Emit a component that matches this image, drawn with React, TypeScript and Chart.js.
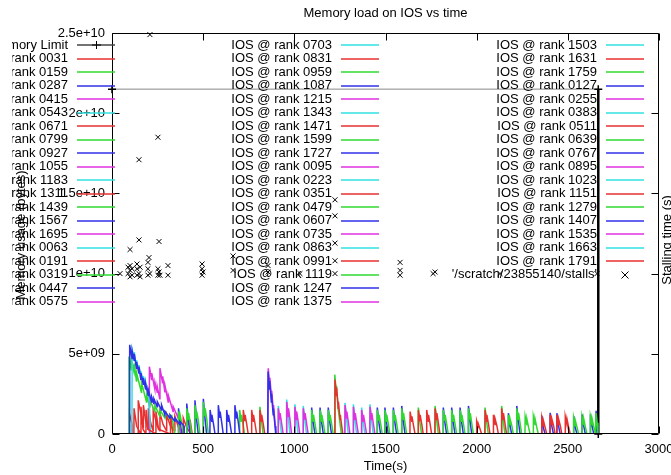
import React, { useEffect, useRef } from "react";
import { Chart, registerables } from "chart.js";
Chart.register(...registerables);

// ---------- texts & ticks ----------
const chartTitle = "Memory load on IOS vs time";
const xTitle = "Time(s)";
const yTitle = "Memory usage (bytes)";
const y2Title = "Stalling time (s)";
const xTicks = [0, 500, 1000, 1500, 2000, 2500, 3000];
const yTicks = [0, 5e9, 1e10, 1.5e10, 2e10, 2.5e10];
const yTickLabels = ["0", "5e+09", "1e+10", "1.5e+10", "2e+10", "2.5e+10"];

// ---------- data (time s, memory in 1e9 bytes) ----------
const memoryLimitLabel = "Memory Limit";
const memoryLimit = [[0, 21.5], [2667, 21.5], [2667, 0]];

const stallsLabel = "'/scratch/23855140/stalls'";
// (time s, stalling time on y2)
const stalls = [
  [44, 100], [88, 100], [88, 104], [99, 98], [99, 102], [99, 105], [99, 115],
  [110, 99], [110, 103], [137, 99], [137, 103], [137, 106], [148, 100], [148, 121], [148, 171],
  [154, 98], [154, 104], [197, 99], [197, 103], [197, 107], [203, 110], [208, 100], [208, 249],
  [252, 99], [252, 103], [252, 185], [258, 101], [258, 120], [263, 99], [307, 99], [307, 105],
  [494, 99], [494, 103], [494, 106], [499, 101], [664, 111], [664, 102], [856, 101], [856, 105],
  [1031, 100], [1223, 100], [1223, 108], [1223, 119], [1223, 136], [1223, 146],
  [1580, 99], [1580, 102], [1580, 107], [1761, 100], [1772, 101], [2128, 100], [2660, 100],
];

const rankIds = [
  "0031", "0159", "0287", "0415", "0543", "0671", "0799", "0927", "1055", "1183", "1311", "1439", "1567", "1695", "0063", "0191", "0319", "0447", "0575",
  "0703", "0831", "0959", "1087", "1215", "1343", "1471", "1599", "1727", "0095", "0223", "0351", "0479", "0607", "0735", "0863", "0991", "1119", "1247", "1375",
  "1503", "1631", "1759", "0127", "0255", "0383", "0511", "0639", "0767", "0895", "1023", "1151", "1279", "1407", "1535", "1663", "1791",
];

const ios0031 = [[94,0],[95,1.3],[110,0.6],[111,0],[143,0],[144,2.1],[160,1.2],[171,0.4],[172,1.8],[185,0.8],[198,0.3],[199,1.6],[212,0.7],[225,0.2],[226,1.5],[245,0.6],[262,0.2],[263,1.3],[280,0.6],[299,0.2],[300,1.2],[320,0.5],[344,0.2],[345,1.1],[365,0.4],[390,0.1],[391,1.0],[410,0.4],[427,0.1],[428,0.9],[440,0]];
const ios0159 = [[92,0],[93,4.83],[105,4.0],[106,4.6],[120,3.9],[121,4.4],[134,3.3],[135,3.8],[161,2.6],[162,3.2],[189,2.0],[190,2.4],[207,1.7],[208,2.1],[234,1.4],[235,1.8],[262,1.1],[263,1.5],[290,1.0],[291,1.4],[326,0.8],[327,1.2],[345,0]];
const ios0287 = [[364,0],[365,1.6],[374,0.7],[383,0],[409,0],[410,1.9],[419,0.8],[428,0],[454,0],[455,2.1],[464,0.9],[473,0],[500,0],[501,2.2],[510,1.0],[519,0]];
const ios0415 = [[204,0],[205,4.2],[217,3.4],[218,3.8],[235,2.8],[236,3.2],[248,2.6],[249,2.9],[262,2.2],[263,4.1],[277,3.2],[278,3.6],[290,2.6],[291,3.0],[308,2.0],[309,2.4],[335,1.4],[336,1.7],[363,1.0],[364,1.3],[375,0]];
const ios0543 = [[109,0],[111,5.25],[121,4.7],[122,5.1],[134,4.2],[135,4.6],[147,3.9],[148,4.3],[158,3.5],[159,3.9],[171,3.2],[172,3.6],[184,2.9],[185,3.2],[198,2.5],[199,2.85],[212,0]];
const ios0671 = [[120,0],[121,1.6],[135,0.5],[158,0],[159,1.7],[170,0.3],[186,0],[187,1.5],[197,0.3],[240,0],[241,1.4],[255,0.3],[320,0],[321,1.1],[335,0]];
const ios0799 = [[364,0],[365,1.4],[374,0.8],[375,1.1],[384,0.6],[392,0],[409,0],[410,1.6],[419,0.9],[420,1.3],[429,0.7],[437,0],[454,0],[455,1.8],[464,1.0],[465,1.4],[474,0.8],[482,0],[500,0],[501,2.0],[510,1.1],[511,1.6],[520,0.9],[528,0]];
const ios0927 = [[96,0],[97,5.56],[110,4.7],[111,5.15],[121,4.6],[122,5.0],[134,4.1],[135,4.5],[147,3.8],[148,4.2],[158,3.4],[159,3.8],[171,3.1],[172,3.5],[184,2.8],[185,3.1],[198,2.4],[199,2.75],[217,2.0],[218,2.3],[229,1.9],[230,2.2],[248,1.7],[249,2.0],[271,1.5],[272,1.8],[290,1.2],[291,1.4],[317,1.0],[318,1.2],[344,0.8],[345,1.0],[371,0.6],[372,0.8],[395,0.5],[396,0]];
const ios1055: number[][] = [];
const ios1183: number[][] = [];
const ios1311: number[][] = [];
const ios1439 = [[699,0],[700,1.5],[709,0.8],[710,1.2],[719,0.6],[727,0],[810,0],[811,1.7],[820,0.8],[829,0]];
const ios1567 = [[537,0],[538,1.5],[547,0.8],[548,1.2],[557,0.6],[565,0],[582,0],[583,1.8],[592,1.0],[593,1.4],[602,0.7],[610,0],[628,0],[629,1.5],[638,0.8],[639,1.2],[648,0.6],[656,0],[673,0],[674,1.8],[683,1.0],[684,1.4],[693,0.7],[701,0]];
const ios1695 = [[855,0],[857,4.1],[865,3.0],[866,3.5],[875,2.2],[876,2.7],[885,1.4],[886,1.8],[895,0.6],[900,0]];
const ios0063: number[][] = [];
const ios0191 = [[719,0],[720,1.5],[729,0.8],[730,1.2],[739,0.6],[747,0],[765,0],[766,1.5],[775,0.8],[776,1.2],[785,0.6],[793,0],[810,0],[811,1.5],[820,0.8],[821,1.2],[830,0.6],[838,0]];
const ios0319 = [[1679,0],[1680,1.65],[1689,0.7],[1698,0],[1771,0],[1772,1.75],[1781,0.8],[1790,0]];
const ios0447 = [[854,0],[856,3.9],[864,2.8],[865,3.3],[874,2.0],[875,2.5],[884,1.2],[885,1.6],[894,0.5],[898,0]];
const ios0575: number[][] = [];
const ios0703 = [[911,0],[912,1.75],[921,0.8],[930,0],[957,0],[958,2.15],[967,1.0],[976,0],[1002,0],[1003,1.85],[1012,0.8],[1021,0],[1048,0],[1049,1.75],[1058,0.8],[1067,0]];
const ios0831: number[][] = [];
const ios0959 = [[1221,0],[1222,3.7],[1230,2.5],[1231,3.0],[1240,1.6],[1249,0.8],[1258,0]];
const ios1087 = [[1094,0],[1095,1.65],[1104,0.7],[1113,0],[1140,0],[1141,1.65],[1150,0.7],[1159,0],[1185,0],[1186,1.65],[1195,0.7],[1204,0]];
const ios1215 = [[911,0],[912,1.6],[921,0.9],[922,1.3],[931,0.6],[939,0],[957,0],[958,2.0],[967,1.1],[968,1.6],[977,0.8],[985,0],[1002,0],[1003,1.7],[1012,0.9],[1013,1.4],[1022,0.7],[1030,0],[1048,0],[1049,1.6],[1058,0.9],[1059,1.3],[1068,0.6],[1076,0]];
const ios1343 = [[1277,0],[1278,1.95],[1287,0.9],[1296,0],[1323,0],[1324,1.85],[1333,0.8],[1342,0],[1368,0],[1369,1.65],[1378,0.7],[1387,0],[1414,0],[1415,1.85],[1424,0.8],[1433,0]];
const ios1471 = [[1221,0],[1223,3.4],[1231,2.4],[1232,2.9],[1241,1.6],[1242,2.0],[1251,0.9],[1252,1.2],[1261,0.4],[1266,0]];
const ios1599 = [[1094,0],[1095,1.5],[1104,0.8],[1105,1.2],[1114,0.6],[1122,0],[1140,0],[1141,1.5],[1150,0.8],[1151,1.2],[1160,0.6],[1168,0],[1185,0],[1186,1.5],[1195,0.8],[1196,1.2],[1205,0.6],[1213,0]];
const ios1727 = [[1454,0],[1455,1.65],[1464,0.7],[1473,0],[1496,0],[1497,1.65],[1506,0.7],[1515,0],[1542,0],[1543,1.65],[1552,0.7],[1561,0],[1588,0],[1589,1.75],[1598,0.8],[1607,0]];
const ios0095 = [[1277,0],[1278,1.8],[1287,1.0],[1288,1.4],[1297,0.7],[1305,0],[1323,0],[1324,1.7],[1333,0.9],[1334,1.3],[1343,0.6],[1351,0],[1368,0],[1369,1.5],[1378,0.8],[1379,1.2],[1388,0.6],[1396,0],[1414,0],[1415,1.7],[1424,0.9],[1425,1.3],[1434,0.6],[1442,0]];
const ios0223: number[][] = [];
const ios0351 = [[1634,0],[1635,1.4],[1644,0.8],[1645,1.1],[1654,0.5],[1662,0],[1679,0],[1680,1.5],[1689,0.8],[1690,1.2],[1699,0.6],[1707,0],[1725,0],[1726,1.5],[1735,0.8],[1736,1.2],[1745,0.6],[1753,0],[1771,0],[1772,1.6],[1781,0.9],[1782,1.3],[1791,0.6],[1799,0]];
const ios0479 = [[1454,0],[1455,1.5],[1464,0.8],[1465,1.2],[1474,0.6],[1482,0],[1496,0],[1497,1.5],[1506,0.8],[1507,1.2],[1516,0.6],[1524,0],[1542,0],[1543,1.5],[1552,0.8],[1553,1.2],[1562,0.6],[1570,0],[1588,0],[1589,1.6],[1598,0.9],[1599,1.3],[1608,0.6],[1616,0]];
const ios0607 = [[1816,0],[1817,1.65],[1826,0.7],[1835,0],[1862,0],[1863,1.65],[1872,0.7],[1881,0],[1908,0],[1909,1.65],[1918,0.7],[1927,0],[1954,0],[1955,1.75],[1964,0.8],[1973,0]];
const ios0735: number[][] = [];
const ios0863: number[][] = [];
const ios0991: number[][] = [];
const ios1119 = [[1816,0],[1817,1.5],[1826,0.8],[1827,1.2],[1836,0.6],[1844,0],[1862,0],[1863,1.5],[1872,0.8],[1873,1.2],[1882,0.6],[1890,0],[1908,0],[1909,1.5],[1918,0.8],[1919,1.2],[1928,0.6],[1936,0],[1954,0],[1955,1.6],[1964,0.9],[1965,1.3],[1974,0.6],[1982,0]];
const ios1247 = [[2173,0],[2174,1.3],[2183,0.5],[2192,0],[2219,0],[2220,1.75],[2229,0.8],[2238,0]];
const ios1375: number[][] = [];
const ios1503: number[][] = [];
const ios1631: number[][] = [];
const ios1759 = [[2045,0],[2046,1.65],[2055,0.7],[2064,0],[2136,0],[2137,1.75],[2146,0.8],[2155,0]];
const ios0127 = [[2356,0],[2357,1.15],[2366,0.4],[2375,0],[2402,0],[2403,1.32],[2412,0.5],[2421,0],[2439,0],[2440,1.3],[2449,0.5],[2458,0]];
const ios0255: number[][] = [];
const ios0383: number[][] = [];
const ios0511 = [[1999,0],[2000,0.8],[2009,0.4],[2010,0.6],[2019,0.3],[2027,0],[2045,0],[2046,1.5],[2055,0.8],[2056,1.2],[2065,0.6],[2073,0],[2091,0],[2092,1.2],[2101,0.6],[2102,0.9],[2111,0.5],[2119,0],[2136,0],[2137,1.6],[2146,0.9],[2147,1.3],[2156,0.6],[2164,0]];
const ios0639 = [[2173,0],[2174,1.2],[2183,0.6],[2184,0.9],[2193,0.5],[2201,0],[2219,0],[2220,1.6],[2229,0.9],[2230,1.3],[2239,0.6],[2247,0],[2265,0],[2266,1.1],[2275,0.6],[2276,0.9],[2285,0.4],[2293,0],[2310,0],[2311,1.1],[2320,0.6],[2321,0.9],[2330,0.4],[2338,0]];
const ios0767 = [[2531,0],[2532,1.12],[2541,0.4],[2550,0],[2577,0],[2578,1.22],[2587,0.5],[2596,0],[2623,0],[2624,1.22],[2633,0.5],[2642,0],[2654,0],[2655,1.45],[2660,0.6],[2664,0]];
const ios0895: number[][] = [];
const ios1023: number[][] = [];
const ios1151 = [[2356,0],[2357,1.0],[2366,0.5],[2367,0.8],[2376,0.4],[2384,0],[2402,0],[2403,1.2],[2412,0.6],[2413,0.9],[2422,0.5],[2430,0],[2439,0],[2440,1.2],[2449,0.6],[2450,0.9],[2459,0.5],[2467,0],[2485,0],[2486,1.1],[2495,0.6],[2496,0.9],[2505,0.4],[2513,0]];
const ios1279 = [[2531,0],[2532,1.0],[2541,0.5],[2542,0.8],[2551,0.4],[2559,0],[2577,0],[2578,1.1],[2587,0.6],[2588,0.9],[2597,0.4],[2605,0],[2623,0],[2624,1.1],[2633,0.6],[2634,0.9],[2643,0.4],[2651,0],[2654,0],[2655,1.3],[2660,0.7],[2665,0]];
const ios1407: number[][] = [];
const ios1535: number[][] = [];
const ios1663: number[][] = [];
const ios1791: number[][] = [];

const iosSeries = [
  ios0031, ios0159, ios0287, ios0415, ios0543, ios0671, ios0799, ios0927, ios1055, ios1183, ios1311, ios1439, ios1567, ios1695, ios0063, ios0191, ios0319, ios0447, ios0575,
  ios0703, ios0831, ios0959, ios1087, ios1215, ios1343, ios1471, ios1599, ios1727, ios0095, ios0223, ios0351, ios0479, ios0607, ios0735, ios0863, ios0991, ios1119, ios1247, ios1375,
  ios1503, ios1631, ios1759, ios0127, ios0255, ios0383, ios0511, ios0639, ios0767, ios0895, ios1023, ios1151, ios1279, ios1407, ios1535, ios1663, ios1791,
];

// ---------- styles ----------
const palette = ["#e83030", "#30d830", "#3030e8", "#e030e0", "#30e0e0"];
const FONT = "'Liberation Sans', Arial, sans-serif";
const FS = 13;
const UNIT = 1e9;

const decorPlugin = {
  id: "decor",
  afterDatasetsDraw(chart: any) {
    const { ctx, chartArea: a, scales } = chart;
    ctx.save();
    ctx.strokeStyle = "#000";
    ctx.lineWidth = 1;
    const L = Math.round(a.left) + 0.5, R = Math.round(a.right) - 0.5;
    const T = Math.round(a.top) + 0.5, B = Math.round(a.bottom) - 0.5;
    ctx.beginPath();
    ctx.rect(L, T, R - L, B - T);
    const tl = 7;
    for (const v of yTicks) {
      const py = Math.round(scales.y.getPixelForValue(v)) + 0.5;
      ctx.moveTo(L, py); ctx.lineTo(L + tl, py);
      ctx.moveTo(R, py); ctx.lineTo(R - tl, py);
    }
    for (const v of xTicks) {
      const px = Math.round(scales.x.getPixelForValue(v)) + 0.5;
      ctx.moveTo(px, B); ctx.lineTo(px, B - tl);
      ctx.moveTo(px, T); ctx.lineTo(px, T + tl);
    }
    ctx.stroke();

    // legend
    ctx.font = `${FS}px ${FONT}`;
    ctx.textBaseline = "middle";
    ctx.textAlign = "right";
    const colX = [68, 332, 597];
    const entries: { label: string; kind: string; color: string }[] = [];
    entries.push({ label: memoryLimitLabel, kind: "ml", color: "#444" });
    rankIds.forEach((r, i) => entries.push({ label: `IOS @ rank ${r}`, kind: "line", color: palette[i % 5] }));
    entries.push({ label: stallsLabel, kind: "x", color: "#000" });
    entries.forEach((e, k) => {
      const col = Math.floor(k / 20), row = k % 20;
      const x = colX[col];
      const y = 45 + row * 13.5;
      ctx.fillStyle = "#000";
      if (col === 0) {
        ctx.save();
        ctx.beginPath();
        ctx.rect(12, y - 10, x + 60, 20);
        ctx.clip();
        ctx.fillText(e.label, x, y);
        ctx.restore();
      } else {
        ctx.fillText(e.label, x, y);
      }
      const yy = Math.round(y);
      if (e.kind === "line" || e.kind === "ml") {
        ctx.strokeStyle = e.color;
        ctx.lineWidth = 1.5;
        ctx.beginPath();
        ctx.moveTo(x + 9, yy); ctx.lineTo(x + 47, yy);
        ctx.stroke();
      }
      if (e.kind === "ml") {
        ctx.strokeStyle = "#000";
        ctx.lineWidth = 1;
        ctx.beginPath();
        ctx.moveTo(x + 28.5, yy - 4); ctx.lineTo(x + 28.5, yy + 4);
        ctx.moveTo(x + 24, yy); ctx.lineTo(x + 33, yy);
        ctx.stroke();
      }
      if (e.kind === "x") {
        ctx.strokeStyle = "#000";
        ctx.lineWidth = 1;
        ctx.beginPath();
        const cx = x + 28;
        ctx.moveTo(cx - 3.5, yy - 3.5); ctx.lineTo(cx + 3.5, yy + 3.5);
        ctx.moveTo(cx + 3.5, yy - 3.5); ctx.lineTo(cx - 3.5, yy + 3.5);
        ctx.stroke();
      }
    });

    // titles
    ctx.fillStyle = "#000";
    ctx.textAlign = "center";
    const midX = (a.left + a.right) / 2;
    ctx.fillText(chartTitle, midX, 13);
    ctx.fillText(xTitle, midX, 466);
    ctx.save();
    ctx.translate(21, 235);
    ctx.rotate(-Math.PI / 2);
    ctx.fillText(yTitle, 0, 0);
    ctx.restore();
    ctx.save();
    ctx.translate(667, 240);
    ctx.rotate(-Math.PI / 2);
    ctx.fillText(y2Title, 0, 0);
    ctx.restore();
    ctx.restore();
  },
};

export default function App() {
  const ref = useRef<HTMLCanvasElement>(null);
  useEffect(() => {
    if (!ref.current) return;
    const datasets: any[] = [];
    datasets.push({
      label: memoryLimitLabel,
      data: memoryLimit.map(([t, v]) => ({ x: t, y: v * UNIT })),
      borderColor: "#000",
      borderWidth: 1,
      segment: {
        borderColor: (c: any) => (c.p0DataIndex === 1 ? "#000" : "#888"),
        borderWidth: (c: any) => (c.p0DataIndex === 1 ? 2.5 : 1),
      },
      pointStyle: "cross",
      pointRadius: 4,
      pointBorderWidth: 1.5,
      pointBorderColor: "#000",
      fill: false,
      order: 0,
      clip: false,
    });
    iosSeries.forEach((s, i) => {
      datasets.push({
        label: `IOS @ rank ${rankIds[i]}`,
        data: s.map(([t, v]) => ({ x: t, y: v * UNIT })),
        borderColor: palette[i % 5],
        borderWidth: 1.5,
        pointRadius: 0,
        fill: false,
        tension: 0,
        order: -(i + 1),
      });
    });
    datasets.push({
      label: stallsLabel,
      data: stalls.map(([t, v]) => ({ x: t, y: v })),
      yAxisID: "y2",
      showLine: false,
      pointStyle: "crossRot",
      pointRadius: 3.5,
      pointBorderWidth: 1,
      pointBorderColor: "#000",
      borderColor: "#000",
      order: -1000,
      clip: false,
    });
    const chart = new Chart(ref.current, {
      type: "line",
      data: { datasets },
      options: {
        animation: false,
        responsive: false,
        events: [],
        layout: { padding: { top: 33, right: 12, left: 0, bottom: 0 } },
        plugins: { legend: { display: false }, tooltip: { enabled: false }, title: { display: false } },
        scales: {
          x: {
            type: "linear",
            min: 0,
            max: 3000,
            afterBuildTicks: (s: any) => { s.ticks = xTicks.map((v) => ({ value: v })); },
            ticks: { autoSkip: false, maxRotation: 0, padding: 8, color: "#000", font: { family: FONT, size: FS }, callback: (v: any) => String(v) },
            grid: { display: false, drawTicks: false },
            border: { display: false },
            afterFit: (s: any) => { s.height = 41; s.paddingLeft = 0; s.paddingRight = 0; },
          },
          y: {
            type: "linear",
            min: 0,
            max: 2.5e10,
            afterBuildTicks: (s: any) => { s.ticks = yTicks.map((v) => ({ value: v })); },
            ticks: { autoSkip: false, padding: 7, color: "#000", font: { family: FONT, size: FS }, callback: (_v: any, i: number) => yTickLabels[i] },
            grid: { display: false, drawTicks: false },
            border: { display: false },
            afterFit: (s: any) => { s.width = 112; s.paddingTop = 0; s.paddingBottom = 0; },
          },
          y2: { type: "linear", position: "right", display: false, min: 0, max: 250 },
        },
      } as any,
      plugins: [decorPlugin],
    });
    return () => chart.destroy();
  }, []);
  return (
    <div style={{ position: "fixed", left: 0, top: 0, width: 671, height: 475, background: "#fff" }}>
      <canvas ref={ref} width={671} height={475} style={{ display: "block" }} />
    </div>
  );
}
